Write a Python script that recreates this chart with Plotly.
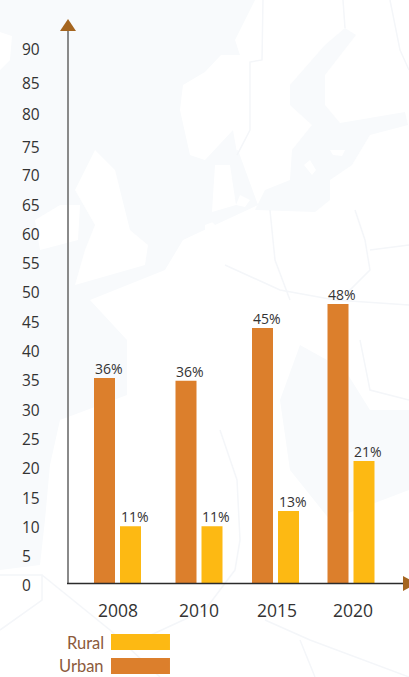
import plotly.graph_objects as go

W, H = 409, 677
years = ["2008", "2010", "2015", "2020"]
group_centers = [117.5, 199, 275.5, 351]
year_label_centers = [118, 199, 277, 353]
urban_values = [35.0, 34.5, 43.5, 47.6]
rural_values = [9.7, 9.7, 12.3, 20.8]
urban_labels = ["36%", "36%", "45%", "48%"]
rural_labels = ["11%", "11%", "13%", "21%"]
tick_labels = ["0", "5", "10", "15", "20", "25", "30", "35", "40", "45", "50",
               "55", "60", "65", "70", "75", "80", "85", "90"]
tick_positions = [0, 5, 10, 15, 20, 25, 30, 35, 40, 45, 50,
                  55, 60, 65, 70, 74.9, 80.4, 85.8, 91.5]

URBAN = "#dc7f2c"
RURAL = "#fdb913"
ARROW = "#a5651f"
FONT = "Open Sans"
TINT = "#f8fafc"


def px(x):
    return x / W


def py(y):
    return 1 - y / H


def poly(points, **kw):
    d = "M " + " L ".join(f"{px(x):.4f},{py(y):.4f}" for x, y in points) + " Z"
    return dict(type="path", xref="paper", yref="paper", path=d, layer="below", **kw)


land = [
    # faint background map: land is white, sea keeps the tint
    [(0, 32), (12, 36), (10, 60), (0, 70)],
    [(180, 110), (183, 85), (205, 72), (221, 55), (240, 55), (235, 40), (255, 0), (409, 0), (409, 300),
     (205, 300), (205, 225), (258, 205), (238, 150), (205, 160), (190, 155)],
    [(95, 150), (115, 170), (130, 230), (148, 245), (145, 265), (75, 285), (85, 250), (95, 225), (75, 190)],
    [(60, 205), (80, 205), (78, 240), (40, 250), (35, 220)],
    [(90, 300), (120, 288), (165, 270), (183, 240), (215, 225), (409, 220), (409, 410), (370, 410), (345, 370),
     (300, 345), (280, 400), (290, 470), (330, 520), (409, 490), (409, 677), (0, 677), (0, 570), (40, 565),
     (45, 520), (50, 465), (60, 420), (127, 395), (127, 340)],
]
seas = [
    [(345, 28), (356, 35), (325, 75), (325, 105), (340, 123), (405, 112), (408, 125), (370, 135), (352, 165),
     (330, 180), (330, 200), (315, 212), (255, 210), (265, 190), (290, 180), (292, 150), (312, 125), (290, 105),
     (290, 85), (325, 45)],
    [(205, 160), (233, 130), (240, 170), (258, 205), (215, 225), (205, 215)],
]
islands = [
    [(310, 160), (316, 170), (312, 175), (304, 165)],
    [(240, 195), (250, 200), (245, 207), (236, 205)],
    [(330, 150), (345, 150), (342, 156), (333, 155)],
    [(215, 165), (230, 165), (236, 205), (212, 212)],
]
shapes = [poly(p, fillcolor="#ffffff", line=dict(width=0)) for p in land]
shapes += [poly(p, fillcolor=TINT, line=dict(width=0)) for p in seas]
shapes += [poly(p, fillcolor="#ffffff", line=dict(width=0)) for p in islands]
shapes += [
    dict(type="path", xref="paper", yref="paper", layer="below",
         path="M " + " L ".join(f"{px(x):.4f},{py(y):.4f}" for x, y in seg),
         line=dict(color="#f4f6f9", width=1.5))
    for seg in [
        [(0, 575), (42, 575), (42, 600), (0, 630)],
        [(42, 575), (110, 630), (160, 677)],
        [(205, 610), (235, 570), (240, 540), (237, 480), (220, 430)],
        [(265, 620), (310, 640), (409, 677)],
        [(300, 640), (315, 677)],
        [(360, 340), (365, 365), (370, 390), (409, 400)],
        [(225, 265), (280, 290), (335, 300), (409, 305)],
        [(205, 610), (140, 640)],
        [(270, 210), (275, 260), (290, 300)],
        [(355, 210), (365, 240), (370, 270), (345, 295)],
        [(370, 250), (409, 245)],
        [(263, 0), (262, 60), (250, 62), (250, 130), (237, 155)],
        [(343, 0), (345, 28)],
        [(390, 0), (400, 50), (409, 70)],
    ]
]
# axis lines and arrow heads
shapes += [
    poly([(68, 19), (60, 31), (76, 31)], fillcolor=ARROW, line=dict(width=0)),
    poly([(403, 576), (403, 591), (417, 583.5)], fillcolor=ARROW, line=dict(width=0)),
    dict(type="line", xref="paper", yref="paper", x0=px(68), x1=px(68), y0=py(31), y1=py(583),
         line=dict(color="#8a8a8a", width=2), layer="above"),
    dict(type="line", xref="paper", yref="paper", x0=px(67), x1=px(403), y0=py(583.5), y1=py(583.5),
         line=dict(color="#2b2b2b", width=1.5), layer="above"),
    poly([(111, 634), (170, 634), (170, 650), (111, 650)], fillcolor=RURAL, line=dict(width=0)),
    poly([(111, 658), (170, 658), (170, 674), (111, 674)], fillcolor=URBAN, line=dict(width=0)),
]

BAR_W = 21
OFFSET = 13
urban_x = [c - OFFSET for c in group_centers]
rural_x = [c + OFFSET for c in group_centers]

fig = go.Figure()
fig.add_bar(x=urban_x, y=urban_values, width=BAR_W, marker=dict(color=URBAN, line=dict(width=0)), name="Urban")
fig.add_bar(x=rural_x, y=rural_values, width=BAR_W, marker=dict(color=RURAL, line=dict(width=0)), name="Rural")

annotations = []
for xs, ys, labels in [(urban_x, urban_values, urban_labels), (rural_x, rural_values, rural_labels)]:
    for x, y, t in zip(xs, ys, labels):
        annotations.append(dict(x=x, y=y, text=t, showarrow=False, xanchor="center", yanchor="bottom",
                                xshift=4, yshift=-2, font=dict(family=FONT, size=14, color="#333333")))
for name, y in [("Rural", 654), ("Urban", 677)]:
    annotations.append(dict(xref="paper", yref="paper", x=px(105), y=py(y), text=name, showarrow=False,
                            xanchor="right", yanchor="bottom", borderpad=0,
                            font=dict(family="Lato", size=16.5, color="#8c5a3c")))

fig.update_layout(
    width=W, height=H,
    margin=dict(l=0, r=0, t=0, b=0, pad=0),
    paper_bgcolor=TINT, plot_bgcolor="rgba(0,0,0,0)",
    barmode="overlay", showlegend=False,
    shapes=shapes, annotations=annotations,
    xaxis=dict(domain=[px(68), px(403)], range=[68, 403], tickmode="array", automargin=False,
               tickvals=year_label_centers, ticktext=years, showgrid=False, zeroline=False,
               showline=False, ticks="", tickfont=dict(family=FONT, size=17.5, color="#333333"),
               ticklabelstandoff=15),
    yaxis=dict(domain=[py(583), py(31)], range=[0, 94.2], tickmode="array", automargin=False,
               tickvals=tick_positions, ticktext=tick_labels, showgrid=False, zeroline=False,
               showline=False, ticks="", side="right", anchor="free", position=px(21),
               tickfont=dict(family=FONT, size=15.5, color="#333333"), ticklabelshift=3),
)
fig.write_html("out.html", config=dict(displayModeBar=False),
               post_script="document.body.style.margin='0';")
